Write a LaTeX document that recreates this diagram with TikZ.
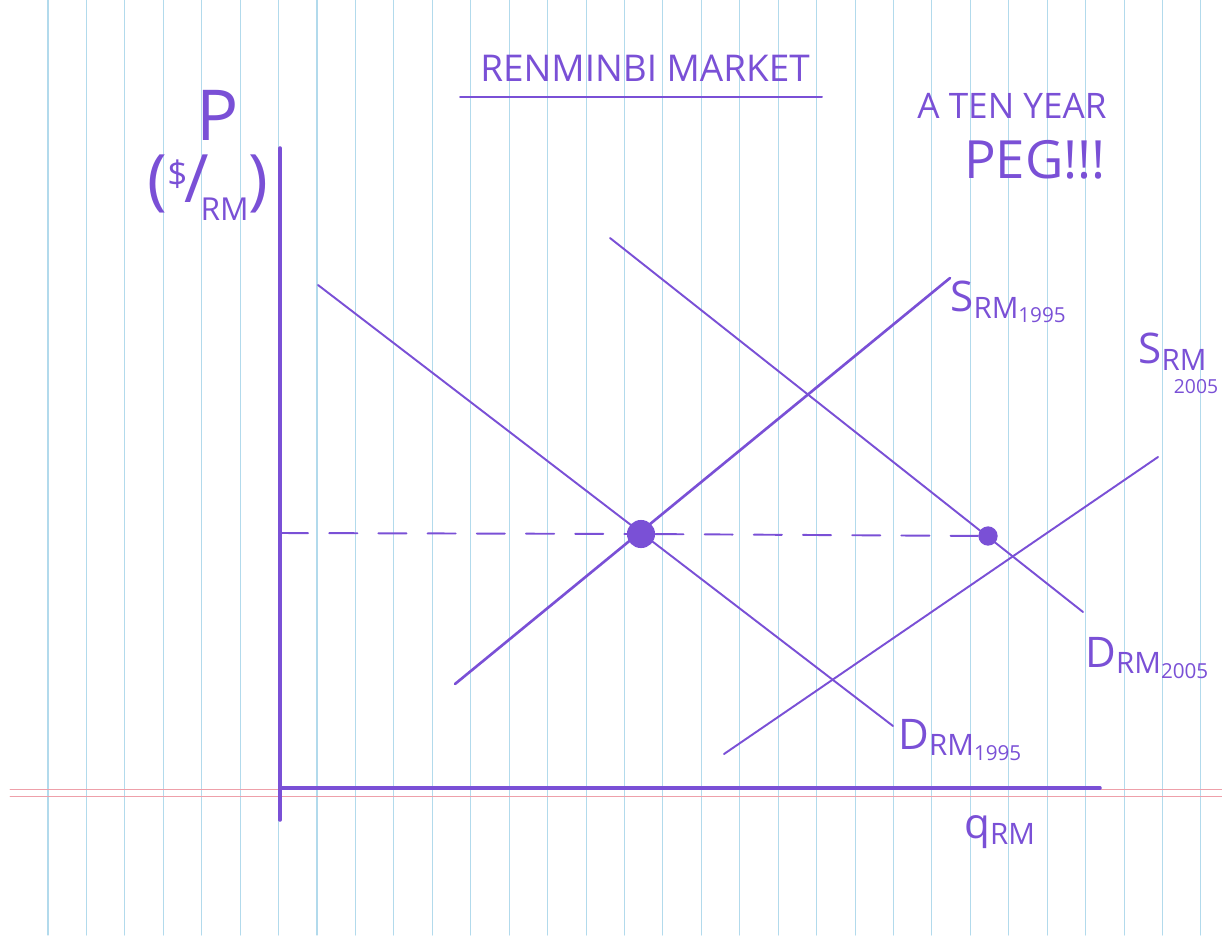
\documentclass[tikz,border=0pt]{standalone}
\usepackage{fontspec}
\setmainfont{Open Sans}
\definecolor{ink}{RGB}{122,80,214}
\definecolor{rule}{RGB}{178,218,236}
\definecolor{margin}{RGB}{238,160,170}
\newcommand{\fsz}[1]{\fontsize{#1}{#1}\selectfont}
\tikzset{
  curve/.style={ink, line width=1.1pt},
  axis/.style={ink, line width=2pt},
  lbl/.style={ink, inner sep=0pt, font=\fsz{24}},
  eq/.style={circle, fill=ink, inner sep=0pt, minimum size=#1},
}
\begin{document}
\begin{tikzpicture}[x=0.02cm, y=-0.02cm, line cap=round]
    \useasboundingbox (0,0) rectangle (1222,950);
    % Paper
    \foreach \i in {0,...,30}
        \draw[rule, line width=0.6pt] ({48+38.43*\i},0) -- ({48+38.43*\i},935);
    \draw[margin, line width=0.5pt] (10,789) -- (1222,789) (10,796) -- (1222,796);
    % Title
    \node[lbl, font=\fsz{21}] (title) at (645,68) {RENMINBI MARKET};
    \draw[curve] (460,97) -- (822,97);
    \node[lbl, font=\fsz{20}] (ten) at (1012,106) {A TEN YEAR};
    \node[lbl, font=\fsz{30}] (peg) at (1035,160) {PEG!!!};
    % Axes
    \coordinate (o) at (280,788);
    \coordinate (ytop) at (280,148);
    \coordinate (xend) at (1100,788);
    \draw[axis] (ytop) -- (280,820);
    \draw[axis] (o) -- (xend);
    \node[lbl, font=\fsz{40}] (P) at (218,115) {P};
    \node[lbl, font=\fsz{38}] (unit) at (208,188)
        {(\raisebox{0.45ex}{\fsz{20}\$}\kern-0.05em/\kern-0.12em\raisebox{-0.5ex}{\fsz{18}RM})};
    \node[lbl] (q) at (1000,832) {q\textsubscript{RM}};
    % Demand and supply
    \coordinate (d1a) at (318,285);  \coordinate (d1b) at (893,726);
    \coordinate (d2a) at (610,238);  \coordinate (d2b) at (1083,612);
    \coordinate (s1a) at (455,684);  \coordinate (s1b) at (950,278);
    \coordinate (s2a) at (724,754);  \coordinate (s2b) at (1158,457);
    \draw[curve] (d1a) -- (d1b);
    \draw[curve] (d2a) -- (d2b);
    \draw[curve, line width=1.5pt] (s1a) -- (s1b);
    \draw[curve] (s2a) -- (s2b);
    % Peg
    \node[eq=16pt] (e1) at (641,534) {};
    \node[eq=11pt] (e2) at (988,536) {};
    \draw[curve, dash pattern=on 16pt off 12pt] (280,533) -- (e1) -- (e2);
    % Labels
    \node[lbl, anchor=west] (s1) at (950,302) {S\textsubscript{RM\textsubscript{1995}}};
    \node[lbl, anchor=west] (s2) at (1138,352) {S\textsubscript{RM}};
    \node[lbl, font=\fsz{11}] (s2y) at (1196,387) {2005};
    \node[lbl, anchor=west] (d1) at (898,740) {D\textsubscript{RM\textsubscript{1995}}};
    \node[lbl, anchor=west] (d2) at (1085,658) {D\textsubscript{RM\textsubscript{2005}}};
\end{tikzpicture}
\end{document}
